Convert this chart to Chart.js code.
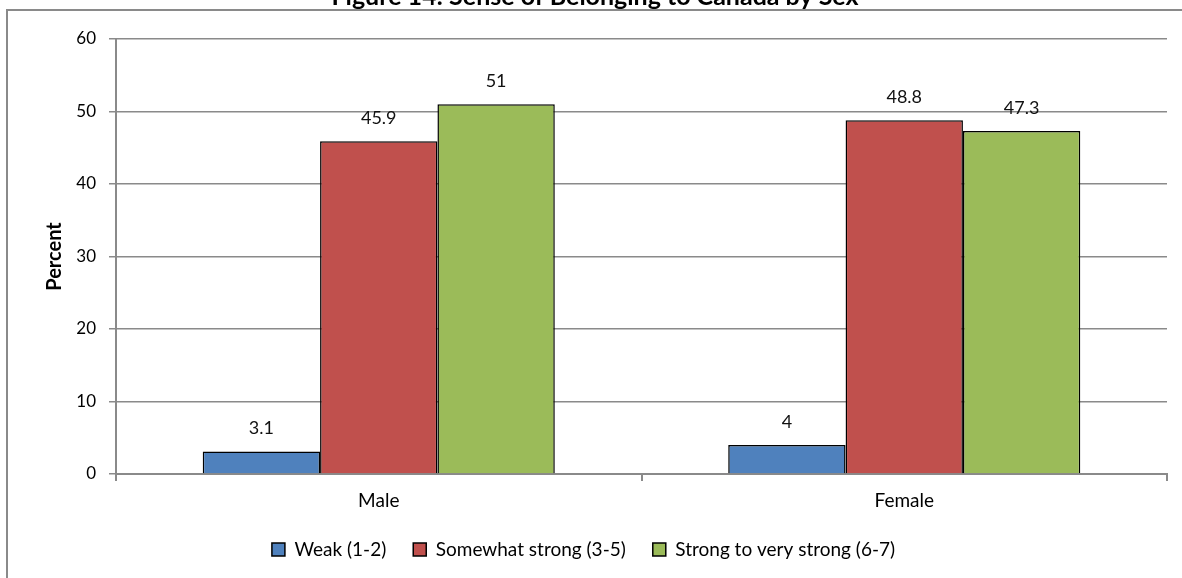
<!DOCTYPE html>
<html>
<head>
<meta charset="utf-8">
<title>Sense of Belonging to Canada by Sex</title>
<script src="https://cdn.jsdelivr.net/npm/chart.js@4/dist/chart.umd.min.js"></script>
<style>
  html, body { margin: 0; padding: 0; background: #fff; }
  #wrap { position: relative; width: 1182px; height: 578px; }
</style>
</head>
<body>
<div id="wrap"><canvas id="c" width="1182" height="578"></canvas></div>
<script>
// Categories, series and axis ticks
const categories = ['Male', 'Female'];
const weak = [3.1, 4];
const somewhatStrong = [45.9, 48.8];
const strongVeryStrong = [51, 47.3];
const seriesNames = ['Weak (1-2)', 'Somewhat strong (3-5)', 'Strong to very strong (6-7)'];
const seriesColors = ['#4F81BD', '#C0504D', '#9BBB59'];
const yTicks = [0, 10, 20, 30, 40, 50, 60];
const titleText = 'Figure 14: Sense of Belonging to Canada by Sex';

const FONT = "Lato, 'Open Sans', 'Liberation Sans', sans-serif";
const GRID = '#8a8a8a';

// Frame line and the heading above it
const framePlugin = {
  id: 'frame',
  beforeDraw(chart) {
    const ctx = chart.ctx;
    ctx.save();
    ctx.fillStyle = '#fff';
    ctx.fillRect(0, 0, chart.width, chart.height);
    ctx.font = 'bold 25px ' + FONT;
    ctx.fillStyle = '#000';
    ctx.textAlign = 'center';
    ctx.textBaseline = 'alphabetic';
    ctx.fillText(titleText, 595, 5);
    ctx.strokeStyle = GRID;
    ctx.lineWidth = 2;
    ctx.beginPath();
    ctx.moveTo(7, chart.height);
    ctx.lineTo(7, 10);
    ctx.lineTo(chart.width, 10);
    ctx.stroke();
    ctx.restore();
  }
};

// Value labels above each bar
const valueLabels = {
  id: 'valueLabels',
  afterDatasetsDraw(chart) {
    const ctx = chart.ctx;
    ctx.save();
    ctx.font = '18px ' + FONT;
    ctx.fillStyle = '#111';
    ctx.textAlign = 'center';
    ctx.textBaseline = 'middle';
    chart.data.datasets.forEach((ds, i) => {
      chart.getDatasetMeta(i).data.forEach((bar, j) => {
        ctx.fillText(String(ds.data[j]), bar.x, bar.y - 23);
      });
    });
    ctx.restore();
  }
};

const seriesData = [weak, somewhatStrong, strongVeryStrong];

new Chart(document.getElementById('c'), {
  type: 'bar',
  data: {
    labels: categories,
    datasets: seriesNames.map((name, i) => ({
      label: name,
      data: seriesData[i],
      backgroundColor: seriesColors[i],
      borderColor: '#000',
      borderWidth: 1.5,
      borderSkipped: 'bottom',
      categoryPercentage: 0.67,
      barPercentage: 1.0
    }))
  },
  options: {
    responsive: false,
    animation: false,
    devicePixelRatio: 1,
    layout: { padding: { left: 0, right: 15, top: 39, bottom: 9 } },
    plugins: {
      title: { display: false },
      tooltip: { enabled: false },
      legend: {
        position: 'bottom',
        labels: {
          boxWidth: 13,
          boxHeight: 13,
          padding: 27,
          color: '#000',
          font: { family: FONT, size: 19 }
        }
      }
    },
    scales: {
      x: {
        offset: true,
        grid: {
          offset: true,
          drawOnChartArea: false,
          drawTicks: true,
          tickLength: 7,
          color: GRID,
          lineWidth: 2
        },
        border: { display: true, color: GRID, width: 2 },
        ticks: {
          color: '#000',
          padding: 8,
          font: { family: FONT, size: 19 }
        },
        afterFit(scale) { scale.height = 39; }
      },
      y: {
        min: 0,
        max: 60,
        afterBuildTicks(scale) { scale.ticks = yTicks.map(v => ({ value: v })); },
        grid: {
          color: GRID,
          lineWidth: 1.5,
          drawTicks: true,
          tickLength: 7
        },
        border: { display: true, color: GRID, width: 2 },
        ticks: {
          color: '#000',
          padding: 13,
          font: { family: FONT, size: 17 }
        },
        title: {
          display: true,
          text: 'Percent',
          color: '#000',
          font: { family: FONT, size: 20, weight: 'bold' },
          padding: { top: 43, bottom: 0 }
        },
        afterFit(scale) { scale.width = 116; }
      }
    }
  },
  plugins: [framePlugin, valueLabels]
});
</script>
</body>
</html>
